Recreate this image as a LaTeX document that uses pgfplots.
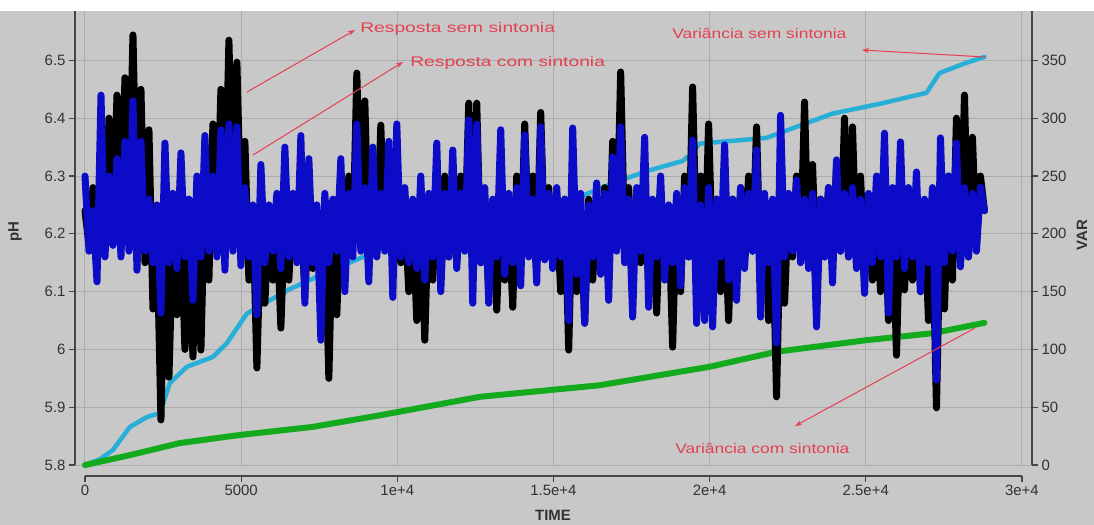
\documentclass[border=0pt]{standalone}
\usepackage{fontspec}
\setmainfont{Liberation Sans}
\usepackage{pgfplots}
\pgfplotsset{compat=1.18}
\usepackage{pgfplotstable}
\usetikzlibrary{arrows.meta}
\definecolor{bggray}{RGB}{200,200,200}
\definecolor{gridgray}{RGB}{172,172,172}
\definecolor{axisgray}{RGB}{70,70,70}
\definecolor{tickgray}{RGB}{50,50,50}
\definecolor{phblue}{RGB}{12,12,200}
\definecolor{varcyan}{RGB}{40,175,215}
\definecolor{vargreen}{RGB}{20,170,30}
\definecolor{annred}{RGB}{228,65,80}

\pgfplotstableread{
t pH
0 6.30
128 6.17
256 6.24
384 6.117
512 6.44
640 6.16
768 6.30
896 6.18
1024 6.33
1152 6.16
1280 6.36
1408 6.17
1536 6.43
1664 6.137
1792 6.36
1920 6.17
2048 6.26
2176 6.15
2304 6.25
2432 6.063
2560 6.357
2688 6.15
2816 6.27
2944 6.14
3072 6.34
3200 6.16
3328 6.26
3456 6.085
3584 6.30
3712 6.16
3840 6.37
3968 6.17
4096 6.30
4224 6.16
4352 6.38
4480 6.137
4608 6.39
4736 6.17
4864 6.385
4992 6.145
5120 6.28
5248 6.16
5376 6.25
5504 6.06
5632 6.32
5760 6.15
5888 6.25
6016 6.17
6144 6.27
6272 6.14
6400 6.35
6528 6.16
6656 6.27
6784 6.15
6912 6.37
7040 6.08
7168 6.33
7296 6.15
7424 6.25
7552 6.016
7680 6.27
7808 6.15
7936 6.26
8064 6.17
8192 6.33
8320 6.10
8448 6.27
8576 6.16
8704 6.39
8832 6.17
8960 6.28
9088 6.117
9216 6.35
9344 6.16
9472 6.27
9600 6.17
9728 6.36
9856 6.09
9984 6.39
10112 6.16
10240 6.28
10368 6.15
10496 6.26
10624 6.14
10752 6.30
10880 6.12
11008 6.27
11136 6.16
11264 6.357
11392 6.10
11520 6.27
11648 6.16
11776 6.345
11904 6.14
12032 6.27
12160 6.17
12288 6.397
12416 6.08
12544 6.39
12672 6.15
12800 6.28
12928 6.08
13056 6.26
13184 6.16
13312 6.38
13440 6.13
13568 6.27
13696 6.15
13824 6.28
13952 6.11
14080 6.371
14208 6.16
14336 6.26
14464 6.115
14592 6.385
14720 6.155
14848 6.27
14976 6.14
15104 6.28
15232 6.16
15360 6.26
15488 6.05
15616 6.383
15744 6.13
15872 6.27
16000 6.045
16128 6.25
16256 6.16
16384 6.288
16512 6.13
16640 6.27
16768 6.085
16896 6.333
17024 6.17
17152 6.385
17280 6.15
17408 6.26
17536 6.056
17664 6.28
17792 6.17
17920 6.367
18048 6.073
18176 6.26
18304 6.16
18432 6.30
18560 6.12
18688 6.25
18816 6.15
18944 6.27
19072 6.11
19200 6.28
19328 6.16
19456 6.362
19584 6.045
19712 6.25
19840 6.05
19968 6.28
20096 6.039
20224 6.26
20352 6.16
20480 6.354
20608 6.12
20736 6.26
20864 6.085
20992 6.28
21120 6.14
21248 6.27
21376 6.17
21504 6.345
21632 6.056
21760 6.27
21888 6.15
22016 6.26
22144 6.011
22272 6.405
22400 6.16
22528 6.27
22656 6.17
22784 6.293
22912 6.15
23040 6.26
23168 6.14
23296 6.27
23424 6.039
23552 6.26
23680 6.16
23808 6.28
23936 6.115
24064 6.328
24192 6.17
24320 6.27
24448 6.16
24576 6.28
24704 6.14
24832 6.26
24960 6.097
25088 6.27
25216 6.15
25344 6.30
25472 6.16
25600 6.374
25728 6.063
25856 6.28
25984 6.16
26112 6.359
26240 6.14
26368 6.28
26496 6.16
26624 6.307
26752 6.10
26880 6.26
27008 6.15
27136 6.28
27264 5.947
27392 6.366
27520 6.15
27648 6.30
27776 6.17
27904 6.357
28032 6.143
28160 6.28
28288 6.16
28416 6.27
28544 6.17
28672 6.281
28800 6.24
}\bluedata

\pgfplotstableread{
t pH
0 6.24
128 6.18
256 6.28
384 6.17
512 6.30
640 6.18
768 6.40
896 6.20
1024 6.44
1152 6.22
1280 6.47
1408 6.25
1536 6.544
1664 6.22
1792 6.45
1920 6.15
2048 6.38
2176 6.07
2304 6.20
2432 5.878
2560 6.22
2688 5.952
2816 6.20
2944 6.06
3072 6.22
3200 6.00
3328 6.20
3456 5.987
3584 6.22
3712 5.999
3840 6.28
3968 6.12
4096 6.39
4224 6.20
4352 6.45
4480 6.22
4608 6.535
4736 6.25
4864 6.497
4992 6.22
5120 6.36
5248 6.12
5376 6.24
5504 5.968
5632 6.22
5760 6.08
5888 6.24
6016 6.12
6144 6.22
6272 6.037
6400 6.24
6528 6.12
6656 6.26
6784 6.16
6912 6.24
7040 6.10
7168 6.22
7296 6.14
7424 6.24
7552 6.12
7680 6.22
7808 5.95
7936 6.24
8064 6.06
8192 6.26
8320 6.15
8448 6.30
8576 6.18
8704 6.478
8832 6.20
8960 6.43
9088 6.17
9216 6.28
9344 6.18
9472 6.388
9600 6.18
9728 6.30
9856 6.15
9984 6.25
10112 6.15
10240 6.24
10368 6.10
10496 6.22
10624 6.05
10752 6.24
10880 6.016
11008 6.26
11136 6.12
11264 6.28
11392 6.14
11520 6.30
11648 6.16
11776 6.26
11904 6.16
12032 6.30
12160 6.18
12288 6.426
12416 6.18
12544 6.426
12672 6.15
12800 6.26
12928 6.10
13056 6.24
13184 6.068
13312 6.26
13440 6.12
13568 6.24
13696 6.073
13824 6.30
13952 6.15
14080 6.39
14208 6.17
14336 6.30
14464 6.16
14592 6.41
14720 6.17
14848 6.28
14976 6.15
15104 6.24
15232 6.10
15360 6.26
15488 5.999
15616 6.28
15744 6.10
15872 6.24
16000 6.046
16128 6.26
16256 6.12
16384 6.24
16512 6.15
16640 6.28
16768 6.14
16896 6.36
17024 6.18
17152 6.48
17280 6.18
17408 6.28
17536 6.12
17664 6.24
17792 6.15
17920 6.26
18048 6.12
18176 6.24
18304 6.063
18432 6.26
18560 6.14
18688 6.24
18816 6.004
18944 6.26
19072 6.10
19200 6.30
19328 6.16
19456 6.454
19584 6.16
19712 6.30
19840 6.14
19968 6.39
20096 6.15
20224 6.26
20352 6.10
20480 6.24
20608 6.05
20736 6.26
20864 6.12
20992 6.28
21120 6.16
21248 6.30
21376 6.17
21504 6.385
21632 6.12
21760 6.26
21888 6.05
22016 6.22
22144 5.918
22272 6.24
22400 6.08
22528 6.26
22656 6.16
22784 6.30
22912 6.17
23040 6.428
23168 6.15
23296 6.32
23424 6.12
23552 6.26
23680 6.16
23808 6.28
23936 6.15
24064 6.32
24192 6.17
24320 6.40
24448 6.16
24576 6.385
24704 6.15
24832 6.30
24960 6.14
25088 6.26
25216 6.12
25344 6.24
25472 6.10
25600 6.26
25728 6.05
25856 6.24
25984 5.99
26112 6.26
26240 6.103
26368 6.24
26496 6.12
26624 6.26
26752 6.10
26880 6.24
27008 6.05
27136 6.22
27264 5.899
27392 6.24
27520 6.07
27648 6.30
27776 6.12
27904 6.40
28032 6.15
28160 6.44
28288 6.16
28416 6.367
28544 6.18
28672 6.30
28800 6.24
}\blackdata

\pgfplotstableread{
t var
0 0
480 5
896 13
1440 33
1984 41.5
2400 45
2720 71
3264 85
4096 93.5
4544 105.5
5184 131
6464 151
7840 168
9440 186
11360 192
13280 205
15200 225
17120 246
18080 255
19136 263
19360 268
19680 278
21824 283
23936 304
25536 313
26944 322
27360 339
28224 348
28800 353
}\cyandata

\pgfplotstableread{
t var
0 0
1440 8.6
3040 19
4960 26
7296 33
9440 43
12640 59
16480 69
20000 85
22144 98
25024 108
27136 114
28800 123
}\greendata

\begin{document}
\begin{tikzpicture}
\fill[bggray] (0,0) rectangle (1094bp,-525bp);
\fill[white] (0,0) rectangle (1094bp,-11bp);

% right axis (VAR) with grid and variance curves
\begin{axis}[
  at={(75bp,-476bp)}, anchor=south west, scale only axis,
  width=957bp, height=465bp,
  xmin=-320, xmax=30323, ymin=-9.5, ymax=392.75,
  hide x axis,
  axis y line*=right,
  axis line style={draw=none},
  ytick={0,50,100,150,200,250,300,350},
  yticklabels={0,50,100,150,200,250,300,350},
  tick align=outside, major tick length=6bp,
  tick style={color=axisgray, line width=1.2bp},
  ticklabel style={font=\fontsize{15}{15}\selectfont, text=tickgray},
  clip=false,
]
\pgfplotsinvokeforeach{0,5000,10000,15000,20000,25000,30000}{
  \draw[gridgray, line width=1bp] (axis cs:#1,0) -- (axis cs:#1,392.75);
}
\pgfplotsinvokeforeach{0,50,100,150,200,250,300,350}{
  \draw[gridgray, line width=1bp] (axis cs:-320,#1) -- (axis cs:30323,#1);
}
\draw[axisgray, line width=1.5bp] (axis cs:30323,0) -- (axis cs:30323,392.75);
\addplot[varcyan, line width=4.5bp, line join=round, line cap=round] table[x=t, y=var] {\cyandata};
\addplot[vargreen, line width=6bp, line join=round, line cap=round] table[x=t, y=var] {\greendata};
\end{axis}

% left axis (pH)
\begin{axis}[
  at={(75bp,-476bp)}, anchor=south west, scale only axis,
  width=957bp, height=465bp,
  xmin=-320, xmax=30323, ymin=5.781, ymax=6.5855,
  axis x line*=bottom, axis y line*=left,
  axis line style={draw=none},
  scaled x ticks=false,
  xtick={0,5000,10000,15000,20000,25000,30000},
  xticklabels={0,5000,1e+4,1.5e+4,2e+4,2.5e+4,3e+4},
  ytick={5.8,5.9,6,6.1,6.2,6.3,6.4,6.5},
  yticklabels={5.8,5.9,6,6.1,6.2,6.3,6.4,6.5},
  tick align=outside, major tick length=6bp,
  tick style={color=axisgray, line width=1.2bp},
  ticklabel style={font=\fontsize{15}{15}\selectfont, text=tickgray},
  clip=false,
]
\draw[axisgray, line width=1.5bp] (axis cs:-320,5.8) -- (axis cs:-320,6.5855);
\draw[axisgray, line width=1.5bp] (axis cs:0,5.781) -- (axis cs:30000,5.781);
\addplot[black, line width=7bp, line join=round, line cap=round] table[x=t, y=pH] {\blackdata};
\addplot[phblue, line width=7bp, line join=round, line cap=round] table[x=t, y=pH] {\bluedata};
\end{axis}

% annotations
\begin{scope}[annred, line width=1bp]
\draw[-{Stealth[length=7bp,width=5bp]}] (247bp,-92bp) -- (355bp,-30bp);
\draw[-{Stealth[length=7bp,width=5bp]}] (253bp,-155bp) -- (403bp,-62bp);
\draw[-{Stealth[length=7bp,width=5bp]}] (985bp,-57bp) -- (862bp,-50bp);
\draw[-{Stealth[length=7bp,width=5bp]}] (975bp,-328bp) -- (795bp,-426bp);
\end{scope}
\node[anchor=west, text=annred, font=\fontsize{14}{14}\selectfont, xscale=1.38, inner sep=0pt] at (360bp,-29bp) {Resposta sem sintonia};
\node[anchor=west, text=annred, font=\fontsize{14}{14}\selectfont, xscale=1.38, inner sep=0pt] at (410bp,-63bp) {Resposta com sintonia};
\node[anchor=west, text=annred, font=\fontsize{14}{14}\selectfont, xscale=1.25, inner sep=0pt] at (672bp,-33bp) {Variância sem sintonia};
\node[anchor=west, text=annred, font=\fontsize{14}{14}\selectfont, xscale=1.25, inner sep=0pt] at (675bp,-448bp) {Variância com sintonia};

% axis titles
\node[rotate=90, font=\fontsize{15}{15}\selectfont\bfseries, text=tickgray] at (15bp,-232bp) {pH};
\node[rotate=90, font=\fontsize{15}{15}\selectfont\bfseries, text=tickgray] at (1082bp,-235bp) {VAR};
\node[font=\fontsize{15}{15}\selectfont\bfseries, text=tickgray] at (553bp,-515bp) {TIME};

\pgfresetboundingbox
\path (0,0) rectangle (1094bp,-525bp);
\end{tikzpicture}
\end{document}
